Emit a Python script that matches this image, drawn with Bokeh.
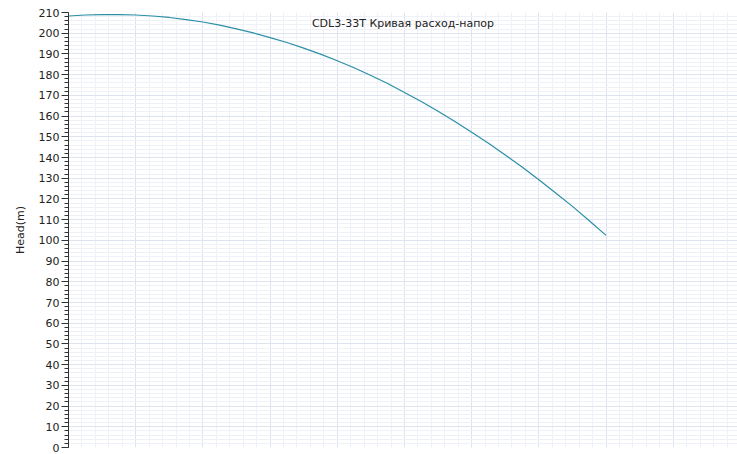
from bokeh.plotting import figure
from bokeh.models import Range1d, SingleIntervalTicker, Grid, LinearAxis, Label
from bokeh.embed import file_html
from bokeh.resources import INLINE

flow = [0.0, 0.125, 0.25, 0.375, 0.5, 0.625, 0.75, 0.875, 1.0, 1.125, 1.25, 1.375, 1.5, 1.625,
        1.75, 1.875, 2.0, 2.125, 2.25, 2.375, 2.5, 2.625, 2.75, 2.875, 3.0, 3.125, 3.25, 3.375,
        3.5, 3.625, 3.75, 3.875, 4.0]
head = [208.3, 208.8, 209.0, 209.0, 208.8, 208.3, 207.6, 206.6, 205.4, 203.9, 202.1, 200.2, 197.9, 195.5,
        192.8, 189.9, 186.7, 183.3, 179.6, 175.7, 171.4, 167.0, 162.3, 157.4, 152.2, 146.9, 141.2, 135.4,
        129.3, 122.9, 116.4, 109.5, 102.4]
title_text = "CDL3-33T Кривая расход-напор"
y_label = "Head(m)"

X_END = 4.978
p = figure(width=737, height=454, output_backend="svg", toolbar_location=None,
           x_range=Range1d(0, X_END), y_range=Range1d(0, 210),
           x_axis_location=None, y_axis_location=None,
           min_border_left=68, min_border_right=0, min_border_top=12, min_border_bottom=7)
p.outline_line_color = None
p.background_fill_color = "white"

yaxis = LinearAxis(ticker=SingleIntervalTicker(interval=10, num_minor_ticks=5))
yaxis.axis_label = y_label
yaxis.axis_label_text_font = "DejaVu Sans"
yaxis.axis_label_text_font_size = "11px"
yaxis.axis_label_text_font_style = "normal"
yaxis.axis_label_text_color = "#222222"
yaxis.axis_label_standoff = 9
yaxis.major_label_text_font = "DejaVu Sans"
yaxis.major_label_text_font_size = "11px"
yaxis.major_label_text_color = "#222222"
yaxis.major_label_standoff = 2
yaxis.major_tick_out = 7
yaxis.major_tick_in = 0
yaxis.minor_tick_out = 4
yaxis.minor_tick_in = 0
yaxis.axis_line_color = "#333333"
yaxis.major_tick_line_color = "#333333"
yaxis.minor_tick_line_color = "#333333"
p.add_layout(yaxis, "left")

xgrid = Grid(dimension=0, ticker=SingleIntervalTicker(interval=0.5, num_minor_ticks=5))
xgrid.grid_line_color = "#dde3ef"
xgrid.minor_grid_line_color = "#eef1f8"
p.add_layout(xgrid)

ygrid = Grid(dimension=1, ticker=SingleIntervalTicker(interval=10, num_minor_ticks=5))
ygrid.grid_line_color = "#dde3ef"
ygrid.minor_grid_line_color = "#eef1f8"
p.add_layout(ygrid)

p.line(flow, head, line_color="#2b8fa6", line_width=1.2)

lbl = Label(x=X_END / 2, y=204.5, text=title_text, text_align="center", text_baseline="middle",
            text_font="DejaVu Sans", text_font_size="11px", text_color="#222222")
p.add_layout(lbl)

open("out.html", "w").write(file_html(p, INLINE))
